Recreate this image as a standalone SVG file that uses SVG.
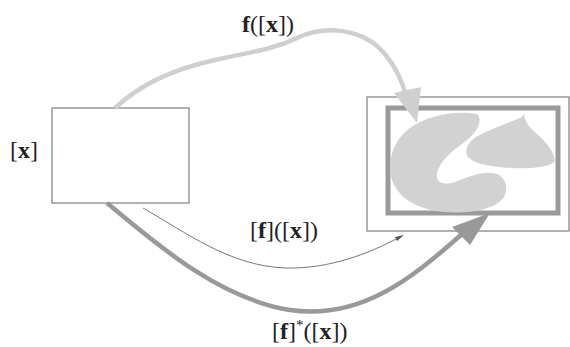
<svg xmlns="http://www.w3.org/2000/svg" width="570" height="347" viewBox="0 0 570 347">
<style>
.lbl{font-family:"Liberation Serif","Times New Roman",serif;font-size:24px;fill:#222}
.b{font-weight:bold}
.box{fill:#fff;stroke:#888;stroke-width:1.3}
.blob{fill:#d2d2d2}
</style>
<rect width="570" height="347" fill="#fff"/>
<g id="source">
<rect class="box" x="52" y="108" width="137" height="95"/>
<text class="lbl" x="10" y="158" font-size="22">[<tspan class="b">x</tspan>]</text>
</g>
<g id="target">
<rect class="box" x="367" y="97" width="202" height="134"/>
<rect x="388" y="108" width="170" height="105" fill="none" stroke="#9a9a9a" stroke-width="5"/>
<path class="blob" d="M477,114 C455,110 428,115 410,128 C394,140 388,158 391,176 C395,196 416,210 445,212 C472,214 496,209 504,197 C509,188 506,178 497,174 C485,170 470,176 455,182 C443,186 435,182 437,173 C440,161 452,151 466,141 C476,133 484,121 477,114 Z"/>
<path class="blob" d="M522,117 C506,124 488,130 476,137 C467,143 464,151 468,157 C474,164 492,167 512,168 C532,169 551,167 555,161 C554,151 546,142 537,134 C529,127 525,122 524,114 Z"/>
</g>
<g id="connectors">
<path d="M115,108 C140,85 170,70 215,60 C250,52 272,50 297,38 C317,28 347,26 372,42 C387,53 398,70 405,92" fill="none" stroke="#cfcfcf" stroke-width="4.5"/>
<polygon points="394,93 421,87 417,123" fill="#cfcfcf"/>
<path d="M143,208 C185,232 230,266 285,268 C330,269 368,254 402,236" fill="none" stroke="#777" stroke-width="1"/>
<polygon points="404,235 395,237 397,241" fill="#555"/>
<path d="M107,203 C150,238 215,298 290,310 C360,320 410,280 462,234" fill="none" stroke="#999" stroke-width="4.5"/>
<polygon points="452,227 490,213 470,245" fill="#999"/>
</g>
<g id="labels">
<text class="lbl" x="242" y="32" font-size="27"><tspan class="b">f</tspan>([<tspan class="b">x</tspan>])</text>
<text class="lbl" x="250" y="238">[<tspan class="b">f</tspan>]([<tspan class="b">x</tspan>])</text>
<text class="lbl" x="272" y="339">[<tspan class="b">f</tspan>]<tspan font-size="15" dy="-9" fill="#222">*</tspan><tspan dy="9">([</tspan><tspan class="b">x</tspan>])</text>
</g>
</svg>
